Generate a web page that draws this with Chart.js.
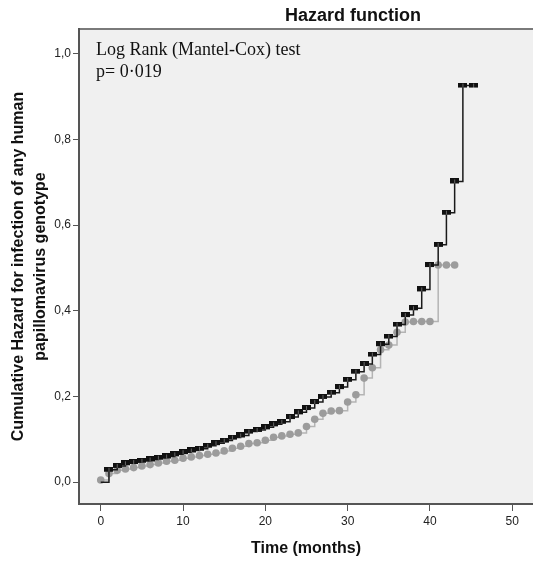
<!DOCTYPE html>
<html>
<head>
<meta charset="utf-8">
<script src="https://cdn.jsdelivr.net/npm/chart.js@4"></script>
<style>
  html, body { margin: 0; padding: 0; background: #fff; overflow: hidden; }
  canvas { display: block; }
</style>
</head>
<body>
<canvas id="hazardChart" width="533" height="565"></canvas>
<script>
// ===== Data =====
const blackMonths = [0, 1, 2, 3, 4, 5, 6, 7, 8, 9, 10, 11, 12, 13, 14, 15, 16, 17, 18, 19,
  20, 21, 22, 23, 24, 25, 26, 27, 28, 29, 30, 31, 32, 33, 34, 35, 36, 37, 38, 39,
  40, 41, 42, 43, 44, 45.3];
const blackHazard = [0.000, 0.029, 0.038, 0.044, 0.047, 0.050, 0.053, 0.057, 0.060, 0.065,
  0.070, 0.074, 0.078, 0.085, 0.091, 0.097, 0.104, 0.109, 0.118, 0.122,
  0.128, 0.135, 0.141, 0.152, 0.163, 0.173, 0.187, 0.199, 0.209, 0.222,
  0.239, 0.258, 0.276, 0.298, 0.322, 0.340, 0.368, 0.390, 0.406, 0.450,
  0.507, 0.554, 0.629, 0.702, 0.926, 0.926];

const grayMonths = [0, 1, 2, 3, 4, 5, 6, 7, 8, 9, 10, 11, 12, 13, 14, 15, 16, 17, 18, 19,
  20, 21, 22, 23, 24, 25, 26, 27, 28, 29, 30, 31, 32, 33, 34, 35, 36, 37, 38, 39,
  40, 41, 42, 43];
const grayHazard = [0.005, 0.020, 0.028, 0.031, 0.034, 0.038, 0.041, 0.045, 0.049, 0.051,
  0.056, 0.059, 0.062, 0.065, 0.068, 0.073, 0.079, 0.084, 0.090, 0.092,
  0.098, 0.105, 0.108, 0.112, 0.115, 0.130, 0.147, 0.161, 0.166, 0.167,
  0.187, 0.204, 0.243, 0.267, 0.309, 0.320, 0.350, 0.374, 0.375, 0.375,
  0.375, 0.507, 0.507, 0.507];

const xTicks = [0, 10, 20, 30, 40, 50];
const yTicks = [0, 0.2, 0.4, 0.6, 0.8, 1.0];

const chartTitle = 'Hazard function';
const testLines = ['Log Rank (Mantel-Cox) test', 'p= 0\u00b7019'];

// ===== Censor mark for the black series =====
const blackMark = document.createElement('canvas');
blackMark.width = 9;
blackMark.height = 6;
(function () {
    const c = blackMark.getContext('2d');
    c.fillStyle = '#111';
    c.fillRect(0, 0, 9, 5);
    c.fillStyle = '#666';
    c.fillRect(4, 1, 1, 4);
})();

const toPoints = (xs, ys) => xs.map((x, i) => ({ x: x, y: ys[i] }));
const sans = "'Liberation Sans', Arial, sans-serif";

// ===== Plugins: plot background, title, test annotation =====
const plotFrame = {
    id: 'plotFrame',
    beforeDraw(chart) {
        const { ctx, chartArea: a } = chart;
        ctx.save();
        ctx.fillStyle = '#f0f0f0';
        ctx.fillRect(a.left, a.top, a.right - a.left, a.bottom - a.top);
        ctx.strokeStyle = '#7a7a7a';
        ctx.lineWidth = 2;
        ctx.beginPath();
        ctx.moveTo(a.left, a.top);
        ctx.lineTo(a.right, a.top);
        ctx.stroke();
        ctx.restore();
    },
    afterDraw(chart) {
        const { ctx } = chart;
        ctx.save();
        ctx.fillStyle = '#111';
        ctx.font = "bold 18px " + sans;
        ctx.textAlign = 'center';
        ctx.textBaseline = 'middle';
        ctx.fillText(chartTitle, 353, 16);

        ctx.font = "18px 'Liberation Serif', 'Times New Roman', serif";
        ctx.textAlign = 'left';
        ctx.textBaseline = 'alphabetic';
        ctx.fillText(testLines[0], 96, 55);
        ctx.fillText(testLines[1], 96, 77);
        ctx.restore();
    }
};

// ===== Chart =====
const ctx = document.getElementById('hazardChart').getContext('2d');
new Chart(ctx, {
    type: 'line',
    data: {
        datasets: [
            {
                label: 'black',
                data: toPoints(blackMonths, blackHazard),
                stepped: true,
                borderColor: '#1a1a1a',
                borderWidth: 1.5,
                pointStyle: blackMark,
                pointRadius: (c) => c.dataIndex === 0 ? 0 : 4,
                fill: false
            },
            {
                label: 'gray',
                data: toPoints(grayMonths, grayHazard),
                stepped: true,
                borderColor: '#b4b4b4',
                borderWidth: 1.5,
                pointStyle: 'circle',
                pointRadius: 3.8,
                pointBorderWidth: 0,
                pointBackgroundColor: '#9c9c9c',
                fill: false
            }
        ]
    },
    options: {
        responsive: false,
        animation: false,
        devicePixelRatio: 1,
        layout: { autoPadding: false, padding: { top: 29, left: 0, right: 0, bottom: 0 } },
        plugins: {
            legend: { display: false },
            tooltip: { enabled: false }
        },
        scales: {
            x: {
                type: 'linear',
                min: -2.64,
                max: 52.52,
                afterBuildTicks: (s) => { s.ticks = xTicks.map(v => ({ value: v })); },
                afterFit: (s) => { s.height = 61; s.paddingLeft = 0; s.paddingRight = 0; },
                grid: { drawOnChartArea: false, drawTicks: true, tickLength: 7, color: '#555' },
                border: { color: '#555', width: 2 },
                ticks: { padding: 3, color: '#222', font: { family: sans, size: 12 }, maxRotation: 0 },
                title: {
                    display: true,
                    text: 'Time (months)',
                    color: '#111',
                    font: { family: sans, size: 16, weight: 'bold' },
                    padding: { top: 0, bottom: 7 }
                }
            },
            y: {
                type: 'linear',
                min: -0.051,
                max: 1.058,
                afterBuildTicks: (s) => { s.ticks = yTicks.map(v => ({ value: v })); },
                afterFit: (s) => { s.width = 79; },
                grid: { drawOnChartArea: false, drawTicks: true, tickLength: 6, color: '#555' },
                border: { color: '#555', width: 2 },
                ticks: {
                    padding: 2,
                    color: '#222',
                    font: { family: sans, size: 12 },
                    callback: (v) => v.toFixed(1).replace('.', ',')
                },
                title: {
                    display: true,
                    text: ['Cumulative Hazard for infection of any human', 'papillomavirus genotype'],
                    color: '#111',
                    font: { family: sans, size: 16, weight: 'bold', lineHeight: 1.4 },
                    padding: { top: 7, bottom: 0 }
                }
            }
        }
    },
    plugins: [plotFrame]
});
</script>
</body>
</html>
